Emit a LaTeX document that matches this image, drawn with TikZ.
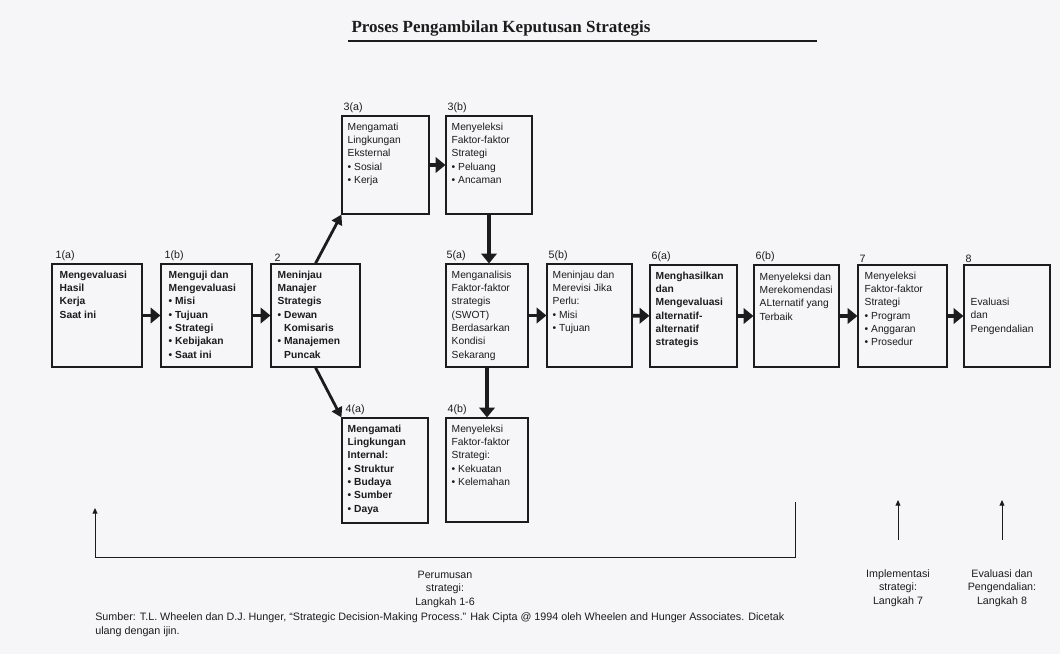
\documentclass[tikz,border=0pt]{standalone}
\usepackage{fontspec}
\setmainfont{Liberation Sans}
\newfontfamily\judulfont{Liberation Serif}
\usetikzlibrary{arrows.meta,fit}

\definecolor{kertas}{RGB}{246,246,248}
\definecolor{tinta}{RGB}{28,28,28}

\newcommand{\bt}{\textbullet\ }
\newcommand{\ind}{\hphantom{\textbullet\ }}

\tikzset{
  kotak/.style={draw=tinta,line width=0.8pt,inner sep=0pt},
  isi/.style={anchor=north west,align=left,inner sep=0pt,text=tinta,font=\fontsize{7.3}{9.5}\selectfont},
  isitebal/.style={isi,font=\fontsize{7.3}{9.5}\selectfont\bfseries},
  nomor/.style={anchor=south west,inner sep=0pt,text=tinta,font=\fontsize{7.6}{9}\selectfont},
  panah/.style={draw=tinta,line width=2.8pt,-{Triangle[length=7pt,width=11pt]}},
  miring/.style={draw=tinta,line width=2pt,-{Triangle[length=7pt,width=8pt]}},
  tipis/.style={draw=tinta,line width=0.7pt,-{Triangle[length=4pt,width=3.5pt]}},
  ket/.style={align=center,inner sep=0pt,text=tinta,font=\fontsize{7.6}{9.6}\selectfont}
}

\begin{document}
\begin{tikzpicture}[x=0.025cm,y=-0.025cm]
	\fill[kertas] (0,0) rectangle (1060,654);
	\useasboundingbox (0,0) rectangle (1060,654);

	% judul
	\node[inner sep=0pt,text=tinta] (judul) at (501,28) {\judulfont\bfseries\fontsize{12.1}{14}\selectfont Proses Pengambilan Keputusan Strategis};
	\coordinate (garisA) at (348,41);
	\coordinate (garisB) at (817,41);
	\draw[tinta,line width=1.2pt] (garisA) -- (garisB);

	% kotak-kotak langkah
	\node[kotak,fit={(52,264) (142,367)}] (k1a) {};
	\node[nomor] (n1a) at ([shift={(4,-2)}]k1a.north west) {1(a)};
	\node[isitebal] (t1a) at ([shift={(8,7)}]k1a.north west) {Mengevaluasi\\Hasil\\Kerja\\Saat ini};

	\node[kotak,fit={(161,264) (252,367)}] (k1b) {};
	\node[nomor] (n1b) at ([shift={(4,-2)}]k1b.north west) {1(b)};
	\node[isitebal] (t1b) at ([shift={(8,7)}]k1b.north west) {Menguji dan\\Mengevaluasi\\\bt Misi\\\bt Tujuan\\\bt Strategi\\\bt Kebijakan\\\bt Saat ini};

	\node[kotak,fit={(271,264) (360,367)}] (k2) {};
	\node[nomor] (n2) at ([shift={(4,-2)}]k2.north west) {2};
	\node[isitebal] (t2) at ([shift={(7,7)}]k2.north west) {Meninjau\\Manajer\\Strategis\\\bt Dewan\\\ind Komisaris\\\bt Manajemen\\\ind Puncak};

	\node[kotak,fit={(342,116) (429,214)}] (k3a) {};
	\node[nomor] (n3a) at ([shift={(2,-2)}]k3a.north west) {3(a)};
	\node[isi] (t3a) at ([shift={(6,7)}]k3a.north west) {Mengamati\\Lingkungan\\Eksternal\\\bt Sosial\\\bt Kerja};

	\node[kotak,fit={(446,116) (532,214)}] (k3b) {};
	\node[nomor] (n3b) at ([shift={(2,-2)}]k3b.north west) {3(b)};
	\node[isi] (t3b) at ([shift={(6,7)}]k3b.north west) {Menyeleksi\\Faktor-faktor\\Strategi\\\bt Peluang\\\bt Ancaman};

	\node[kotak,fit={(342,418) (428,523)}] (k4a) {};
	\node[nomor] (n4a) at ([shift={(4,-2)}]k4a.north west) {4(a)};
	\node[isitebal] (t4a) at ([shift={(6,7)}]k4a.north west) {Mengamati\\Lingkungan\\Internal:\\\bt Struktur\\\bt Budaya\\\bt Sumber\\\bt Daya};

	\node[kotak,fit={(446,418) (528,522)}] (k4b) {};
	\node[nomor] (n4b) at ([shift={(2,-2)}]k4b.north west) {4(b)};
	\node[isi] (t4b) at ([shift={(6,7)}]k4b.north west) {Menyeleksi\\Faktor-faktor\\Strategi:\\\bt Kekuatan\\\bt Kelemahan};

	\node[kotak,fit={(446,264) (528,367)}] (k5a) {};
	\node[nomor] (n5a) at ([shift={(1,-2)}]k5a.north west) {5(a)};
	\node[isi] (t5a) at ([shift={(6,7)}]k5a.north west) {Menganalisis\\Faktor-faktor\\strategis\\(SWOT)\\Berdasarkan\\Kondisi\\Sekarang};

	\node[kotak,fit={(547,264) (632,367)}] (k5b) {};
	\node[nomor] (n5b) at ([shift={(2,-2)}]k5b.north west) {5(b)};
	\node[isi] (t5b) at ([shift={(6,7)}]k5b.north west) {Meninjau dan\\Merevisi Jika\\Perlu:\\\bt Misi\\\bt Tujuan};

	\node[kotak,fit={(650,265) (737,367)}] (k6a) {};
	\node[nomor] (n6a) at ([shift={(2,-2)}]k6a.north west) {6(a)};
	\node[isitebal] (t6a) at ([shift={(6,7)}]k6a.north west) {Menghasilkan\\dan\\Mengevaluasi\\alternatif-\\alternatif\\strategis};

	\node[kotak,fit={(754,265) (839,367)}] (k6b) {};
	\node[nomor] (n6b) at ([shift={(2,-2)}]k6b.north west) {6(b)};
	\node[isi] (t6b) at ([shift={(6,8)}]k6b.north west) {Menyeleksi dan\\Merekomendasi\\ALternatif yang\\Terbaik};

	\node[kotak,fit={(858,265) (947,367)}] (k7) {};
	\node[nomor] (n7) at ([shift={(2,-2)}]k7.north west) {7};
	\node[isi] (t7) at ([shift={(7,7)}]k7.north west) {Menyeleksi\\Faktor-faktor\\Strategi\\\bt Program\\\bt Anggaran\\\bt Prosedur};

	\node[kotak,fit={(964,265) (1050,367)}] (k8) {};
	\node[nomor] (n8) at ([shift={(2,-2)}]k8.north west) {8};
	\node[isi,anchor=west] (t8) at ([shift={(7,0)}]k8.west) {Evaluasi\\dan\\Pengendalian};

	% panah antar kotak
	\draw[panah] (k1a) -- (k1b);
	\draw[panah] (k1b) -- (k2);
	\draw[panah] (k3a) -- (k3b);
	\draw[panah] (k5a) -- (k5b);
	\draw[panah] (k5b) -- (k6a);
	\draw[panah] (k6a) -- (k6b);
	\draw[panah] (k6b) -- (k7);
	\draw[panah] (k7) -- (k8);
	\draw[panah] (k3b.south) -- (k3b.south |- k5a.north);
	\draw[panah] (k5a.south) -- (k5a.south |- k4b.north);
	\draw[miring] (k2.north) -- (k3a.south west);
	\draw[miring] (k2.south) -- (k4a.north west);

	% keterangan bawah
	\coordinate (rumusA) at (95,508);
	\coordinate (rumusB) at (95,557);
	\coordinate (rumusC) at (795,557);
	\coordinate (rumusD) at (795,502);
	\draw[tipis,{Triangle[length=4pt,width=3.5pt]}-] (rumusA) -- (rumusB) -- (rumusC) -- (rumusD);
	\node[ket] (lrumus) at (445,589) {Perumusan\\strategi:\\Langkah 1-6};

	\node[ket] (l7) at (898,588) {Implementasi\\strategi:\\Langkah 7};
	\coordinate (p7) at (898,500);
	\draw[tipis] ([yshift=21pt]l7.north) -- (p7);

	\node[ket] (l8) at (1002,588) {Evaluasi dan\\Pengendalian:\\Langkah 8};
	\coordinate (p8) at (1002,500);
	\draw[tipis] ([yshift=21pt]l8.north) -- (p8);

	% sumber
	\node[anchor=north west,align=left,inner sep=0pt,text=tinta,font=\fontsize{7.65}{10.6}\selectfont] (sumber) at (95,612) {Sumber: T.L. Wheelen dan D.J. Hunger, ``Strategic Decision-Making Process.'' Hak Cipta @ 1994 oleh Wheelen and Hunger Associates. Dicetak\\ulang dengan ijin.};
\end{tikzpicture}
\end{document}
